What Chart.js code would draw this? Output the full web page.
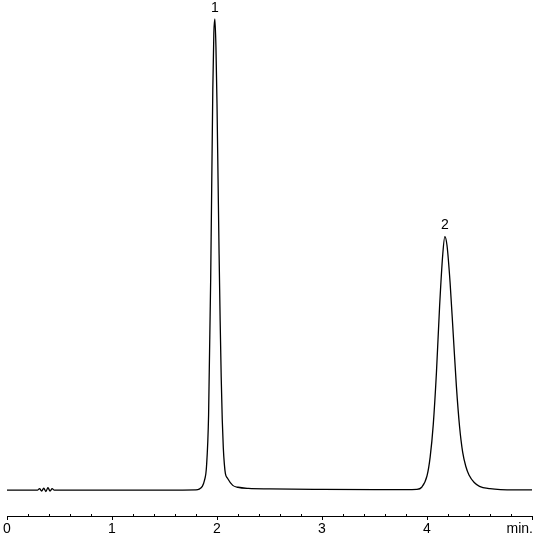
<!DOCTYPE html>
<html lang="en">
<head>
    <meta charset="UTF-8">
    <title>Chromatogram</title>
    <script src="https://cdn.jsdelivr.net/npm/chart.js"></script>
    <style>
        html, body {
            margin: 0;
            padding: 0;
            background: #ffffff;
        }
        #wrap {
            width: 535px;
            height: 538px;
        }
    </style>
</head>
<body>
    <div id="wrap"><canvas id="chrom"></canvas></div>

    <script>
        // Retention time (min) and detector signal (peak 1 = 100)
        const times = [
            0.00, 0.10, 0.20, 0.29, 0.31, 0.33, 0.35, 0.37, 0.39, 0.41, 0.43, 0.45,
            0.60, 1.00, 1.50, 1.80, 1.83, 1.86, 1.88, 1.90, 1.92, 1.94, 1.96, 1.97,
            1.98, 1.99, 2.00, 2.01, 2.02, 2.03, 2.04, 2.05, 2.06, 2.07, 2.08, 2.10,
            2.15, 2.20, 2.30, 2.50, 3.00, 3.50, 3.80, 3.90, 3.95, 4.00, 4.03, 4.06,
            4.09, 4.12, 4.15, 4.17, 4.19, 4.22, 4.25, 4.28, 4.31, 4.34, 4.37, 4.40,
            4.45, 4.50, 4.60, 4.70, 4.85, 5.00
        ];
        const signal = [
            0.0, 0.0, 0.0, 0.0, 0.3, -0.2, 0.4, -0.3, 0.5, -0.2, 0.3, 0.0,
            0.0, 0.0, 0.0, 0.05, 0.2, 0.8, 2.0, 5.0, 16, 45, 85, 97,
            100, 94, 82, 66, 50, 36, 24, 15, 9, 5.5, 3.5, 2.5,
            1.0, 0.6, 0.35, 0.25, 0.15, 0.1, 0.1, 0.15, 0.6, 3.0, 7.0, 14,
            25, 39, 50, 53.8, 52, 44, 33, 22, 13.5, 8.0, 5.0, 3.2,
            1.6, 0.8, 0.3, 0.1, 0.05, 0.05
        ];

        // Peak annotations
        const peakTimes = [1.98, 4.17];
        const peakHeights = [100, 53.8];
        const peakNames = ['1', '2'];

        // Axis ticks
        const majorTicks = [0, 1, 2, 3, 4, 5];
        const tickLabels = ['0', '1', '2', '3', '4', ''];
        const axisUnit = 'min.';

        const fontFamily = "'Liberation Sans Narrow', 'Arial Narrow', 'Liberation Sans', sans-serif";

        const points = times.map((t, i) => ({ x: t, y: signal[i] }));

        // Peak numbers, minor ticks and unit label
        const extras = {
            id: 'extras',
            afterDraw(chart) {
                const ctx = chart.ctx;
                const xs = chart.scales.x;
                const ys = chart.scales.y;
                ctx.save();
                ctx.fillStyle = '#000';
                ctx.font = '14px ' + fontFamily;
                ctx.textAlign = 'center';
                ctx.textBaseline = 'bottom';
                peakTimes.forEach((t, i) => {
                    ctx.fillText(peakNames[i], xs.getPixelForValue(t), ys.getPixelForValue(peakHeights[i]) - 4);
                });

                // minor ticks every 0.2 min, pointing up
                const bottom = chart.chartArea.bottom;
                ctx.strokeStyle = '#000';
                ctx.lineWidth = 1;
                for (let k = 1; k < 25; k++) {
                    if (k % 5 === 0) continue;
                    const px = Math.round(xs.getPixelForValue(k * 0.2)) + 0.5;
                    ctx.beginPath();
                    ctx.moveTo(px, bottom);
                    ctx.lineTo(px, bottom - 2);
                    ctx.stroke();
                }

                ctx.textAlign = 'right';
                ctx.textBaseline = 'top';
                ctx.fillText(axisUnit, xs.getPixelForValue(5) + 1, bottom + 6);
                ctx.restore();
            }
        };

        new Chart(document.getElementById('chrom'), {
            type: 'line',
            data: {
                datasets: [{
                    data: points,
                    borderColor: '#000',
                    borderWidth: 1.3,
                    pointRadius: 0,
                    fill: false,
                    cubicInterpolationMode: 'monotone'
                }]
            },
            options: {
                responsive: true,
                maintainAspectRatio: false,
                animation: false,
                layout: {
                    padding: { top: 0, left: 7, right: 3, bottom: 0 }
                },
                plugins: {
                    legend: { display: false },
                    tooltip: { enabled: false }
                },
                scales: {
                    x: {
                        type: 'linear',
                        min: 0,
                        max: 5,
                        afterBuildTicks: (scale) => {
                            scale.ticks = majorTicks.map(v => ({ value: v }));
                        },
                        ticks: {
                            autoSkip: false,
                            maxRotation: 0,
                            padding: 2,
                            color: '#000',
                            font: { family: fontFamily, size: 14, lineHeight: 1 },
                            callback: (v) => tickLabels[majorTicks.indexOf(v)]
                        },
                        grid: {
                            drawOnChartArea: false,
                            drawTicks: true,
                            tickLength: 4,
                            color: '#000'
                        },
                        border: { display: true, color: '#000', width: 1 }
                    },
                    y: {
                        display: false,
                        min: -5.5,
                        max: 104
                    }
                }
            },
            plugins: [extras]
        });
    </script>
</body>
</html>
